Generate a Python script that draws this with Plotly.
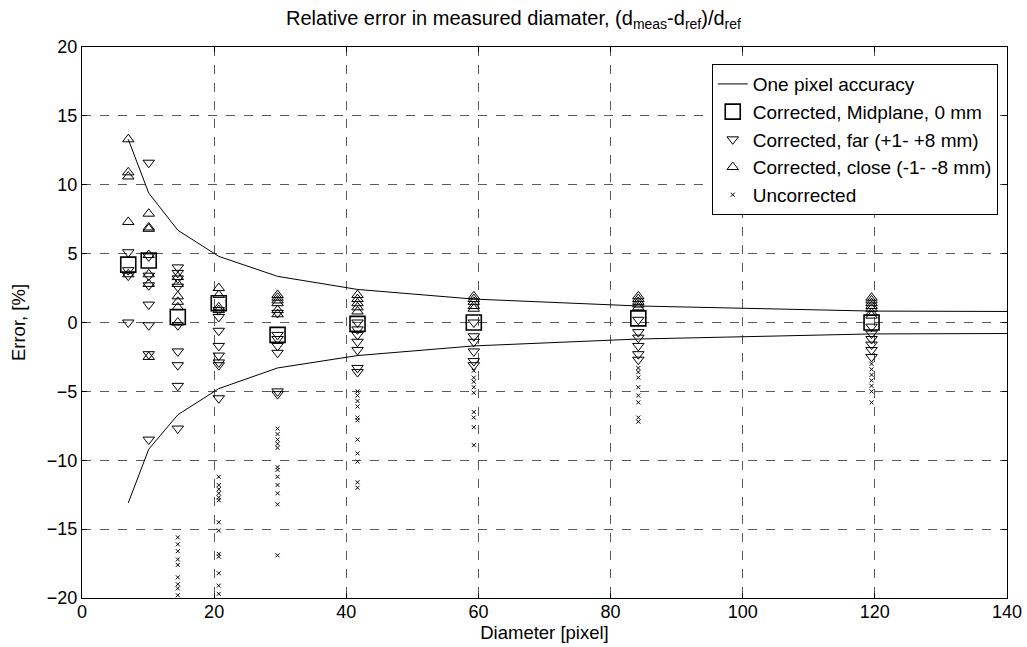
import plotly.graph_objects as go

# cluster diameters [pixel]
diam = [7.0, 10.1, 14.5, 20.7, 29.6, 41.7, 59.3, 84.2, 119.5]

# one pixel accuracy curve
curve_x = [7.0, 10.1, 14.5, 20.7, 29.6, 41.7, 59.3, 84.2, 119.5, 140]
curve_up = [13.3, 9.4, 6.7, 4.8, 3.35, 2.4, 1.7, 1.2, 0.83, 0.8]
curve_lo = [-13.1, -9.2, -6.7, -4.8, -3.3, -2.4, -1.7, -1.2, -0.83, -0.8]

# Corrected, midplane (one per cluster)
mid = [4.2, 4.5, 0.4, 1.4, -0.9, -0.1, 0.0, 0.3, 0.0]

# Corrected, far (+1 .. +8 mm)
far = [
    [5.1, 3.8, 3.4, 0.0],
    [11.6, 4.8, 3.4, 2.7, 1.3, -0.2, -2.3, -8.5],
    [4.0, 3.6, 3.2, 2.6, -0.2, -2.1, -3.1, -4.6, -7.7],
    [0.9, 0.4, -0.6, -1.7, -2.4, -2.9, -3.1, -5.5],
    [0.7, -0.9, -1.2, -1.7, -2.2, -5.0, -5.2],
    [0.0, -0.5, -0.9, -1.4, -2.0, -3.3, -3.6],
    [0.0, -1.0, -1.4, -2.1, -2.8, -3.1],
    [0.2, -0.7, -1.1, -1.7, -2.3, -2.7],
    [-0.3, -0.8, -1.2, -1.6, -2.0, -2.5],
]

# Corrected, close (-1 .. -8 mm)
close = [
    [13.3, 10.9, 10.6, 7.3, 3.5],
    [7.9, 6.9, 6.8, 4.9, 3.5, 2.8, -2.5],
    [3.3, 2.8, 1.9, 1.5, 1.1, 0.0],
    [2.5, 2.0, 1.1, 0.9],
    [2.0, 1.8, 1.6, 1.4, 0.9, 0.6],
    [2.0, 1.7, 1.4, 1.1, 0.8],
    [1.9, 1.7, 1.5, 1.2, 1.0],
    [1.9, 1.7, 1.5, 1.3, 1.1],
    [1.8, 1.6, 1.4, 1.2, 1.0, 0.7, 0.5],
]

# Uncorrected
uncorr = [
    [],
    [],
    [-15.6, -16.1, -16.6, -17.2, -17.6, -18.5, -19.0, -19.3, -19.8],
    [-11.2, -11.8, -12.1, -12.4, -12.7, -12.9, -14.5, -15.1, -16.8, -17.0, -18.2, -19.1, -19.7],
    [-7.7, -8.1, -8.5, -8.8, -9.1, -10.5, -10.7, -11.2, -11.8, -12.4, -13.2, -16.9],
    [-5.0, -5.3, -5.7, -6.1, -6.9, -7.1, -8.5, -9.5, -10.1, -11.6, -12.0],
    [-3.5, -4.0, -4.3, -4.7, -5.1, -6.5, -6.9, -7.6, -8.9],
    [-3.3, -3.6, -4.0, -4.7, -5.3, -5.8, -6.9, -7.2],
    [-3.0, -3.4, -3.8, -4.2, -4.6, -5.0, -5.8],
]


def flatten(groups):
    xs, ys = [], []
    for d, vals in zip(diam, groups):
        for v in vals:
            xs.append(d)
            ys.append(v)
    return xs, ys


FONT = "Liberation Sans, Arial, sans-serif"
fig = go.Figure()

fig.add_trace(go.Scatter(
    x=curve_x + [None] + curve_x, y=curve_up + [None] + curve_lo,
    mode="lines", line=dict(color="black", width=1),
    name="One pixel accuracy", connectgaps=False))

fig.add_trace(go.Scatter(
    x=diam, y=mid, mode="markers", name="Corrected, Midplane, 0 mm",
    marker=dict(symbol="square-open", size=15, color="black",
                line=dict(width=1.6, color="black"))))

fx, fy = flatten(far)
fig.add_trace(go.Scatter(
    x=fx, y=fy, mode="markers", name="Corrected, far (+1- +8 mm)",
    marker=dict(symbol="triangle-down-open", size=10, color="black",
                line=dict(width=1, color="black"))))

cx, cy = flatten(close)
fig.add_trace(go.Scatter(
    x=cx, y=cy, mode="markers", name="Corrected, close (-1- -8 mm)",
    marker=dict(symbol="triangle-up-open", size=10, color="black",
                line=dict(width=1, color="black"))))

ux, uy = flatten(uncorr)
fig.add_trace(go.Scatter(
    x=ux, y=uy, mode="markers", name="Uncorrected",
    marker=dict(symbol="x-thin-open", size=4, color="black",
                line=dict(width=1, color="black"))))

axis_common = dict(
    showline=True, linecolor="black", linewidth=1, mirror="ticks",
    ticks="inside", ticklen=5, tickcolor="black", automargin=False,
    showgrid=True, gridcolor="#5a5a5a", gridwidth=1, griddash="dash",
    zeroline=False, tickfont=dict(family=FONT, size=18, color="black"),
)

fig.update_layout(
    width=1027, height=647,
    margin=dict(l=82, r=20, t=47, b=49),
    paper_bgcolor="white", plot_bgcolor="white",
    font=dict(family=FONT, size=18, color="black"),
    title=dict(text="Relative error in measured diamater, (d<sub>meas</sub>-d<sub>ref</sub>)/d<sub>ref</sub>",
               x=0.5, xanchor="center", y=0.972, yanchor="middle",
               font=dict(family=FONT, size=20, color="black")),
    xaxis=dict(range=[0, 140], dtick=20, ticklabelstandoff=-3,
               title=dict(text="Diameter [pixel]", standoff=0,
                          font=dict(family=FONT, size=18.5)),
               **axis_common),
    yaxis=dict(range=[-20, 20], dtick=5,
               title=dict(text="Error, [%]", standoff=16,
                          font=dict(family=FONT, size=18.5)),
               **axis_common),
    legend=dict(x=0.99, xanchor="right", y=0.969, yanchor="top",
                bgcolor="white", bordercolor="black", borderwidth=1,
                font=dict(family=FONT, size=19, color="black"),
                tracegroupgap=0, itemwidth=30),
    showlegend=True,
)

fig.write_html("out.html")
